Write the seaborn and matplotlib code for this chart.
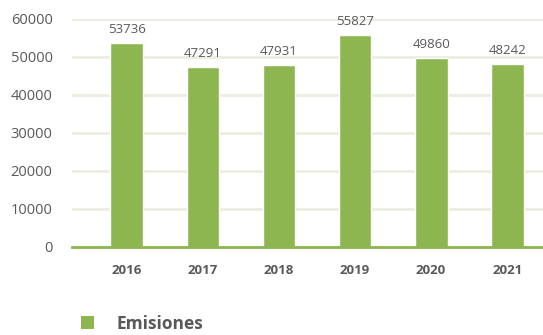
import matplotlib
matplotlib.use("Agg")
import matplotlib.pyplot as plt
import seaborn as sns
import pandas as pd
from matplotlib.patches import Patch

years = ["2016", "2017", "2018", "2019", "2020", "2021"]
emisiones = [53736, 47291, 47931, 55827, 49860, 48242]
y_ticks = [0, 10000, 20000, 30000, 40000, 50000, 60000]
series_name = "Emisiones"

green = "#8db651"
grid_col = "#ecede0"
text_col = "#595959"

sns.set_theme(style="white")
plt.rcParams["font.family"] = ["Open Sans", "DejaVu Sans"]

df = pd.DataFrame({"year": years, "value": emisiones})

fig = plt.figure(figsize=(5.43, 3.35), dpi=100)
ax = fig.add_axes([0.1326, 0.2627, 0.8674, 0.6806])

sns.barplot(data=df, x="year", y="value", color=green, width=0.43,
            saturation=1, ax=ax, zorder=3)

ax.set_ylim(0, 60000)
ax.set_xlim(-0.72, 5.47)
ax.set_yticks(y_ticks)
ax.set_yticklabels([str(t) for t in y_ticks], fontsize=10.5, color=text_col)
ax.set_xticks(range(len(years)))
ax.set_xticklabels(years, fontsize=9.5, fontweight="bold", color=text_col)
ax.tick_params(axis="y", length=0, pad=14)
ax.tick_params(axis="x", length=0, pad=12)
ax.set_xlabel("")
ax.set_ylabel("")

for t in y_ticks[1:]:
    ax.axhline(t, color=grid_col, lw=2, zorder=1)

for s in ["top", "right", "left"]:
    ax.spines[s].set_visible(False)
ax.spines["bottom"].set_color(green)
ax.spines["bottom"].set_linewidth(2)
ax.spines["bottom"].set_zorder(4)

for i, v in enumerate(emisiones):
    ax.annotate(str(v), (i, v), xytext=(0, 5), textcoords="offset points",
                ha="center", va="bottom", fontsize=9.5, color=text_col)

handle = Patch(facecolor=green, edgecolor="none", label=series_name)
fig.legend(handles=[handle], loc="lower left", bbox_to_anchor=(0.12, -0.04),
           frameon=False, handlelength=0.75, handleheight=0.75, handletextpad=1.3,
           prop={"size": 12.5, "weight": "bold"}, labelcolor=text_col)

fig.savefig("out.png", dpi=100)
